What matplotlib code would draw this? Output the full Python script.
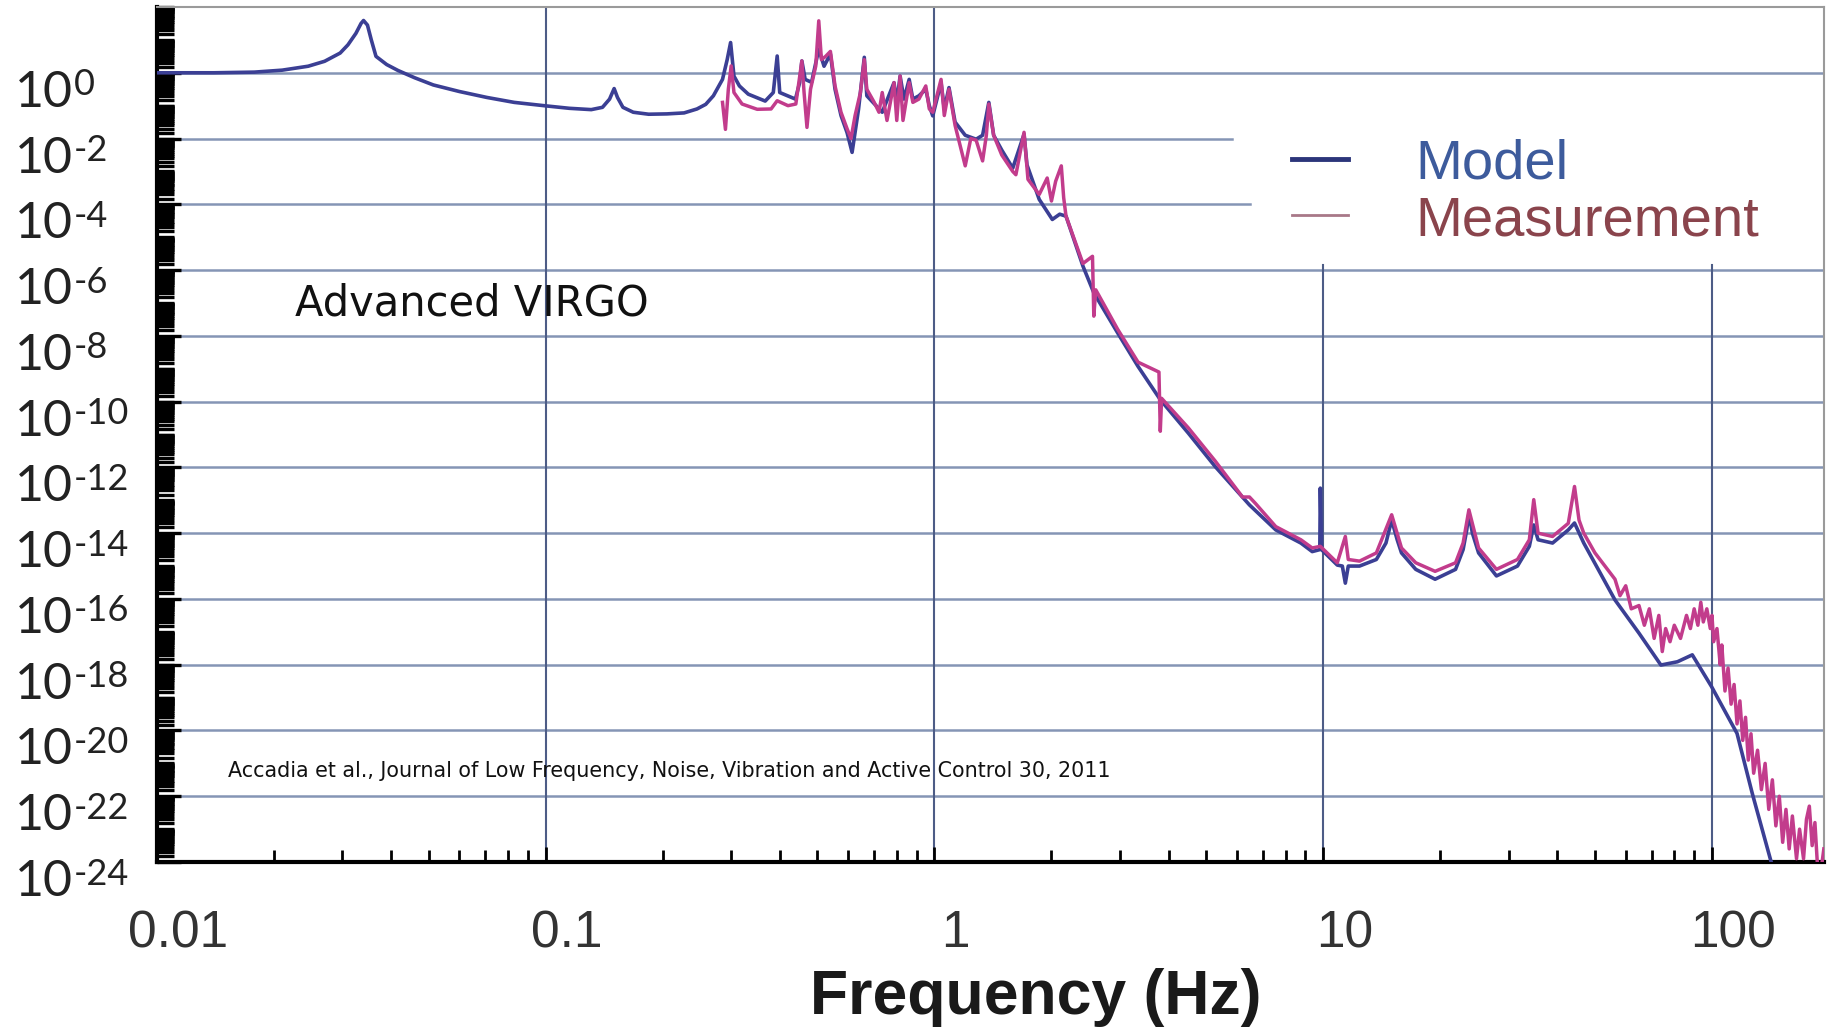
import numpy as np
import matplotlib
matplotlib.use('Agg')
import matplotlib.pyplot as plt
import matplotlib.transforms as mtransforms
from matplotlib.lines import Line2D
from matplotlib.ticker import FixedLocator, LogLocator, NullFormatter

# transfer function: frequency (Hz) and log10 of amplitude
model_f = [0.01, 0.014, 0.0178, 0.021, 0.0245, 0.027, 0.0296, 0.031, 0.0325, 0.0335,
           0.034, 0.0348, 0.0356, 0.0366, 0.039, 0.0417, 0.046, 0.0514, 0.06, 0.0706,
           0.083, 0.099, 0.115, 0.131, 0.14, 0.146, 0.15, 0.153, 0.158, 0.168,
           0.184, 0.205, 0.227, 0.245, 0.258, 0.27, 0.285, 0.293, 0.299, 0.305,
           0.315, 0.332, 0.367, 0.385, 0.394, 0.40, 0.439, 0.45, 0.456, 0.465,
           0.483, 0.504, 0.52, 0.54, 0.555, 0.575, 0.596, 0.614, 0.638, 0.66,
           0.67, 0.734, 0.787, 0.80, 0.816, 0.835, 0.861, 0.88, 0.912, 0.95,
           0.97, 0.99, 1.04, 1.06, 1.09, 1.13, 1.2, 1.28, 1.33, 1.38,
           1.42, 1.49, 1.59, 1.70, 1.73, 1.86, 2.01, 2.10, 2.18, 2.41,
           2.57, 2.96, 3.34, 3.81, 4.5, 5.27, 6.46, 7.55, 8.76, 9.37,
           9.8, 9.83, 9.9, 10.87, 11.2, 11.4, 11.6, 12.4, 13.7, 14.5,
           15.0, 15.5, 15.9, 17.3, 19.4, 21.9, 22.9, 23.4, 23.7, 24.2,
           25.1, 27.9, 31.6, 33.9, 34.8, 35.7, 38.9, 42.7, 44.3, 46.8,
           56.3, 64.9, 73.9, 81.5, 89.0, 99.8, 116, 127, 142, 150]
model_lg = [0.0, 0.0, 0.02, 0.08, 0.2, 0.35, 0.6, 0.85, 1.2, 1.5,
            1.59, 1.45, 1.0, 0.5, 0.25, 0.07, -0.15, -0.37, -0.57, -0.75,
            -0.9, -1.0, -1.08, -1.12, -1.05, -0.8, -0.48, -0.75, -1.05, -1.2,
            -1.26, -1.25, -1.22, -1.1, -0.96, -0.7, -0.2, 0.4, 0.92, -0.1,
            -0.4, -0.65, -0.86, -0.6, 0.51, -0.6, -0.8, -0.3, 0.36, -0.2,
            -0.29, 0.72, 0.2, 0.57, -0.5, -1.3, -1.82, -2.42, -1.1, 0.47,
            -0.7, -1.2, -0.3, -0.9, -0.1, -0.8, -0.2, -0.8, -0.7, -0.5,
            -1.0, -1.31, -0.3, -1.1, -0.45, -1.5, -1.9, -2.02, -1.9, -0.9,
            -1.9, -2.35, -2.9, -1.87, -2.8, -3.85, -4.46, -4.3, -4.36, -5.88,
            -6.69, -7.91, -8.93, -9.94, -10.96, -11.97, -13.14, -13.9, -14.3, -14.56,
            -14.5, -12.63, -14.5, -14.97, -15.0, -15.52, -15.0, -15.0, -14.8, -14.3,
            -13.6, -14.2, -14.6, -15.1, -15.4, -15.1, -14.5, -13.9, -13.4, -14.0,
            -14.6, -15.3, -15.0, -14.4, -13.75, -14.2, -14.3, -13.9, -13.69, -14.3,
            -16.03, -17.04, -18.01, -17.91, -17.7, -18.67, -20.09, -21.92, -24.0, -24.6]

meas_f = [0.285, 0.29, 0.295, 0.30, 0.305, 0.32, 0.35, 0.38, 0.394, 0.42,
          0.44, 0.456, 0.462, 0.47, 0.48, 0.495, 0.504, 0.512, 0.525, 0.54,
          0.555, 0.575, 0.596, 0.61, 0.625, 0.645, 0.66, 0.67, 0.70, 0.72,
          0.734, 0.755, 0.787, 0.80, 0.816, 0.83, 0.861, 0.88, 0.912, 0.95,
          0.97, 0.99, 1.04, 1.06, 1.09, 1.13, 1.2, 1.24, 1.28, 1.33,
          1.36, 1.38, 1.42, 1.49, 1.59, 1.62, 1.70, 1.74, 1.86, 1.95,
          2.0, 2.05, 2.12, 2.15, 2.18, 2.41, 2.55, 2.57, 2.60, 2.96,
          3.34, 3.78, 3.81, 3.84, 4.5, 5.27, 6.2, 6.46, 6.7, 7.55,
          8.76, 9.37, 9.83, 10.87, 11.4, 11.6, 12.4, 13.7, 15.0, 15.9,
          17.3, 19.4, 21.9, 22.9, 23.7, 25.1, 27.9, 31.6, 33.9, 34.8,
          35.7, 38.9, 42.7, 44.3, 45.5, 46.8, 50, 56.3, 58, 60,
          62, 64.9, 67, 69, 71, 73, 74.5, 76, 78, 80,
          83, 86, 88, 90, 92, 93.6, 95, 97, 99, 100,
          101, 103, 105, 106, 108, 110, 112, 114, 116, 118,
          120, 122, 124, 126, 128, 131, 134, 137, 140, 143,
          146, 149, 152, 155, 158, 161, 165, 168, 172, 175,
          178, 181, 184, 187, 191, 194]
meas_lg = [-0.9, -1.72, -0.5, 0.21, -0.6, -0.95, -1.11, -1.1, -0.85, -1.0,
           -0.95, 0.36, -0.6, -1.66, -0.5, 0.2, 1.58, 0.4, 0.5, 0.65,
           -0.4, -1.2, -1.7, -2.0, -1.3, -0.6, 0.4, -0.5, -0.9, -1.2,
           -0.6, -1.45, -0.3, -1.45, -0.1, -1.45, -0.3, -0.9, -0.8, -0.4,
           -1.1, -1.2, -0.2, -1.3, -0.5, -1.6, -2.83, -2.0, -2.05, -2.68,
           -1.9, -0.95, -1.9, -2.5, -3.0, -3.1, -1.81, -3.24, -3.7, -3.2,
           -3.9, -3.3, -2.83, -3.8, -4.36, -5.8, -5.58, -7.4, -6.6, -7.8,
           -8.8, -9.1, -10.9, -9.9, -10.8, -11.8, -12.9, -12.9, -13.1, -13.8,
           -14.2, -14.45, -14.4, -14.9, -14.1, -14.8, -14.85, -14.6, -13.44, -14.45,
           -14.9, -15.16, -14.9, -14.3, -13.29, -14.45, -15.1, -14.8, -14.2, -12.98,
           -14.0, -14.1, -13.7, -12.58, -13.6, -14.0, -14.6, -15.4, -15.9, -15.6,
           -16.3, -16.2, -16.8, -16.3, -17.2, -16.5, -17.6, -16.9, -17.3, -16.8,
           -17.2, -16.5, -16.9, -16.3, -16.8, -16.1, -16.7, -16.3, -16.9, -16.5,
           -17.3, -16.9, -18.0, -17.4, -18.8, -18.1, -19.2, -18.6, -19.8, -19.1,
           -20.3, -19.6, -20.9, -20.1, -21.3, -20.6, -21.8, -21.0, -22.4, -21.5,
           -22.9, -22.0, -23.4, -22.4, -23.6, -22.6, -23.9, -23.0, -23.9, -22.7,
           -22.3, -23.5, -22.8, -24.2, -24.2, -23.6]

xtick_vals = [0.01, 0.1, 1, 10, 100]
xtick_labels = ['0.01', '0.1', '1', '10', '100']
ytick_exps = list(range(0, -25, -2))

fig = plt.figure(figsize=(18.31, 10.32), dpi=100)
ax = fig.add_axes([0.0857, 0.1647, 0.9104, 0.8285])
ax.set_xscale('log')
ax.set_yscale('log')
ax.set_xlim(0.01, 194)
ax.set_ylim(1e-24, 1e2)

ax.plot(model_f, 10.0 ** np.array(model_lg), color='#3b3f94', lw=2.6, zorder=3)
ax.plot(meas_f, 10.0 ** np.array(meas_lg), color='#c23c8c', lw=2.5, zorder=4)

# ticks
ax.xaxis.set_major_locator(FixedLocator(xtick_vals))
ax.xaxis.set_minor_locator(LogLocator(base=10, subs=np.arange(2, 10), numticks=50))
ax.yaxis.set_major_locator(FixedLocator([10.0 ** e for e in ytick_exps]))
ax.yaxis.set_minor_locator(LogLocator(base=10, subs=np.arange(1, 10, 0.5), numticks=400))
for axis in [ax.xaxis, ax.yaxis]:
    axis.set_major_formatter(NullFormatter())
    axis.set_minor_formatter(NullFormatter())

# grid lines, broken where the legend sits
for e in ytick_exps:
    xmax = 1.0
    if e == -2:
        xmax = 0.645
    elif e == -4:
        xmax = 0.656
    ax.axhline(10.0 ** e, xmax=xmax, color='#8595b5', lw=1.8, zorder=1)
for v in xtick_vals[1:]:
    ymax = 1.0 if v < 5 else 0.698
    ax.axvline(v, ymax=ymax, color='#4d5c86', lw=1.5, zorder=1)

ax.tick_params(axis='x', which='both', direction='in', color='black', width=2)
ax.tick_params(axis='x', which='major', length=11)
ax.tick_params(axis='x', which='minor', length=9)
ax.tick_params(axis='y', which='both', direction='in', color='black', width=2.4)
ax.tick_params(axis='y', which='major', length=17)
ax.tick_params(axis='y', which='minor', length=12)

for side in ['left', 'bottom']:
    ax.spines[side].set_linewidth(3)
    ax.spines[side].set_color('black')
for side in ['top', 'right']:
    ax.spines[side].set_linewidth(1.5)
    ax.spines[side].set_color('#9a9a9a')

# y labels: "10" with a hyphen exponent, left aligned at the figure edge
ytrans = mtransforms.blended_transform_factory(fig.transFigure, ax.transData)
down_big = mtransforms.ScaledTranslation(0, -0.20, fig.dpi_scale_trans)
down_sup = mtransforms.ScaledTranslation(0, -0.12, fig.dpi_scale_trans)
for e in ytick_exps:
    ax.text(15 / 1831, 10.0 ** e, '10', transform=ytrans + down_big, ha='left',
            va='center', fontsize=36, family='Lato', color='#222222')
    ax.text(74 / 1831, 10.0 ** e, str(e), transform=ytrans + down_sup, ha='left',
            va='center', fontsize=26, family='Lato', color='#222222')

# x tick labels, slightly to the right of the ticks as in the original
off = mtransforms.ScaledTranslation(0.21, 0, fig.dpi_scale_trans)
trans = ax.get_xaxis_transform() + off
for v, lab in zip(xtick_vals, xtick_labels):
    ax.text(v, -0.084, lab, transform=trans, ha='center', va='center',
            fontsize=37, family='Liberation Sans', color='#333333')

fig.text(0.5658, 0.033, 'Frequency (Hz)', ha='center', va='center',
         fontsize=45, fontweight='bold', family='Liberation Sans', color='#1a1a1a')

ax.text(0.0828, 0.653, 'Advanced VIRGO', transform=ax.transAxes, ha='left',
        va='center', fontsize=30, family='DejaVu Sans', color='#111111', zorder=5)
ax.text(0.0426, 0.1066,
        'Accadia et al., Journal of Low Frequency, Noise, Vibration and Active Control 30, 2011',
        transform=ax.transAxes, ha='left', va='center', fontsize=14.9,
        family='DejaVu Sans', color='#111111', zorder=5)

handles = [Line2D([], [], color='#2c357a', lw=3.5),
           Line2D([], [], color='#a87888', lw=2)]
leg = ax.legend(handles, ['Model', 'Measurement'], loc='upper left',
                bbox_to_anchor=(0.664, 0.879), frameon=False, borderpad=0,
                prop={'family': 'Liberation Sans', 'size': 40.5},
                handlelength=1.0, handletextpad=1.2, labelspacing=0.08,
                labelcolor=['#3d5b9c', '#8a444c'])
leg.set_zorder(6)

fig.savefig('out.png', dpi=100, facecolor='white')
